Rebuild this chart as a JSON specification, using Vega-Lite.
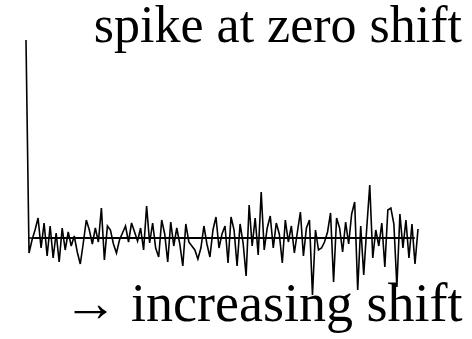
{
  "$schema": "https://vega.github.io/schema/vega-lite/v6.json",
  "autosize": "none",
  "width": 392,
  "height": 258,
  "padding": {"left": 26, "top": 40, "right": 54, "bottom": 41},
  "background": "white",
  "config": {"view": {"stroke": null}},
  "title": {
    "text": "spike at zero shift",
    "anchor": "end",
    "font": "Liberation Serif",
    "fontSize": 52,
    "fontWeight": "normal",
    "color": "black",
    "baseline": "alphabetic",
    "offset": 0,
    "dx": 0,
    "dy": 57
  },
  "data": {
    "values": [
      {"i":0,"v":198},{"i":1,"v":-15},{"i":2,"v":-2},{"i":3,"v":8},{"i":4,"v":20},{"i":5,"v":-10},{"i":6,"v":15},{"i":7,"v":-18},{"i":8,"v":12},{"i":9,"v":-20},
      {"i":10,"v":5},{"i":11,"v":-24},{"i":12,"v":10},{"i":13,"v":-12},{"i":14,"v":6},{"i":15,"v":-8},{"i":16,"v":2},{"i":17,"v":-14},{"i":18,"v":-26},{"i":19,"v":-5},
      {"i":20,"v":18},{"i":21,"v":8},{"i":22,"v":-6},{"i":23,"v":10},{"i":24,"v":-4},{"i":25,"v":30},{"i":26,"v":-22},{"i":27,"v":12},{"i":28,"v":8},{"i":29,"v":-6},
      {"i":30,"v":-15},{"i":31,"v":-2},{"i":32,"v":5},{"i":33,"v":12},{"i":34,"v":-4},{"i":35,"v":15},{"i":36,"v":6},{"i":37,"v":-3},{"i":38,"v":10},{"i":39,"v":-12},
      {"i":40,"v":32},{"i":41,"v":-5},{"i":42,"v":15},{"i":43,"v":-10},{"i":44,"v":-19},{"i":45,"v":18},{"i":46,"v":4},{"i":47,"v":-24},{"i":48,"v":16},{"i":49,"v":-8},
      {"i":50,"v":10},{"i":51,"v":-6},{"i":52,"v":-28},{"i":53,"v":14},{"i":54,"v":-4},{"i":55,"v":-8},{"i":56,"v":-12},{"i":57,"v":-21},{"i":58,"v":-10},{"i":59,"v":12},
      {"i":60,"v":-6},{"i":61,"v":-19},{"i":62,"v":8},{"i":63,"v":21},{"i":64,"v":-10},{"i":65,"v":4},{"i":66,"v":12},{"i":67,"v":-25},{"i":68,"v":21},{"i":69,"v":8},
      {"i":70,"v":-28},{"i":71,"v":14},{"i":72,"v":-5},{"i":73,"v":-38},{"i":74,"v":33},{"i":75,"v":-8},{"i":76,"v":20},{"i":77,"v":-17},{"i":78,"v":46},{"i":79,"v":-12},
      {"i":80,"v":10},{"i":81,"v":22},{"i":82,"v":-10},{"i":83,"v":15},{"i":84,"v":4},{"i":85,"v":-25},{"i":86,"v":18},{"i":87,"v":-4},{"i":88,"v":12},{"i":89,"v":-15},
      {"i":90,"v":6},{"i":91,"v":26},{"i":92,"v":-18},{"i":93,"v":10},{"i":94,"v":18},{"i":95,"v":-57},{"i":96,"v":8},{"i":97,"v":-12},{"i":98,"v":-10},{"i":99,"v":-4},
      {"i":100,"v":6},{"i":101,"v":25},{"i":102,"v":-44},{"i":103,"v":20},{"i":104,"v":10},{"i":105,"v":-14},{"i":106,"v":16},{"i":107,"v":-6},{"i":108,"v":24},{"i":109,"v":36},
      {"i":110,"v":-52},{"i":111,"v":12},{"i":112,"v":-37},{"i":113,"v":10},{"i":114,"v":53},{"i":115,"v":-20},{"i":116,"v":8},{"i":117,"v":-8},{"i":118,"v":15},{"i":119,"v":-29},
      {"i":120,"v":28},{"i":121,"v":30},{"i":122,"v":14},{"i":123,"v":-49},{"i":124,"v":24},{"i":125,"v":-10},{"i":126,"v":18},{"i":127,"v":-20},{"i":128,"v":14},{"i":129,"v":-26},
      {"i":130,"v":9}
    ]
  },
  "encoding": {
    "x": {
      "field": "i", "type": "quantitative",
      "scale": {"domain": [0, 130], "nice": false, "zero": false},
      "axis": {
        "title": "→ increasing shift",
        "labels": false, "ticks": false, "domain": false, "grid": false,
        "titleFont": "Liberation Serif", "titleFontSize": 54, "titleFontWeight": "normal",
        "titleColor": "black", "titleAnchor": "end", "titleAlign": "right",
        "titleBaseline": "alphabetic", "titleX": 436, "titleY": 22
      }
    },
    "y": {
      "field": "v", "type": "quantitative",
      "scale": {"domain": [-60, 198], "nice": false, "zero": false},
      "axis": null
    }
  },
  "layer": [
    {
      "mark": {"type": "line", "color": "black", "strokeWidth": 1.6}
    },
    {
      "mark": {"type": "rule", "color": "black", "strokeWidth": 1.6},
      "encoding": {"x": {"aggregate": "min", "field": "i", "type": "quantitative"}, "x2": {"aggregate": "max", "field": "i"}, "y": {"datum": 0}}
    }
  ]
}
